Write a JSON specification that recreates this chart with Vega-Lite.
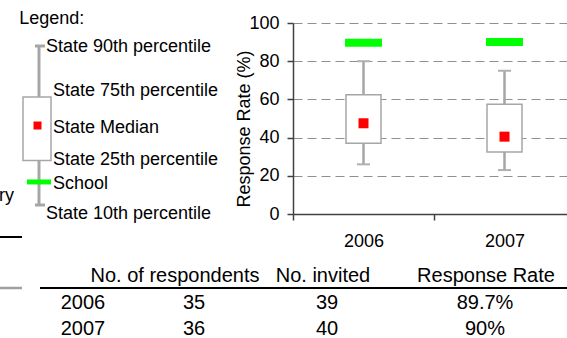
{
  "$schema": "https://vega.github.io/schema/vega-lite/v6.json",
  "width": 274,
  "height": 338,
  "autosize": {"type": "none"},
  "padding": {"left": 293, "right": 0, "top": 0, "bottom": 0},
  "background": "white",
  "config": {
    "view": {"stroke": null},
    "font": "Liberation Sans",
    "axis": {"labelFont": "Liberation Sans", "titleFont": "Liberation Sans", "labelFontSize": 18, "titleFontSize": 18, "labelColor": "black", "titleColor": "black", "titleFontWeight": "normal"},
    "text": {"font": "Liberation Sans", "fontSize": 18, "color": "black"}
  },
  "datasets": {
    "box": [
      {"year": "2006", "p10": 26, "p25": 37, "median": 47.5, "p75": 62.5, "p90": 80, "school": 89.7},
      {"year": "2007", "p10": 23, "p25": 32.5, "median": 40.5, "p75": 57.5, "p90": 75, "school": 90}
    ],
    "legend": [{"p10": 0, "p25": 28, "median": 50, "p75": 68, "p90": 100, "school": 14.5}],
    "table": [
      {"year": "2006", "respondents": 35, "invited": 39, "rate": "89.7%"},
      {"year": "2007", "respondents": 36, "invited": 40, "rate": "90%"}
    ],
    "headers": [
      {"col": "respondents", "label": "No. of respondents"},
      {"col": "invited", "label": "No. invited"},
      {"col": "rate", "label": "Response Rate"}
    ],
    "fragment": [{"label": "ry"}]
  },
  "resolve": {"scale": {"x": "independent", "y": "independent"}, "axis": {"x": "independent", "y": "independent"}},
  "layer": [
    {
      "data": {"name": "box"},
      "encoding": {
        "x": {"field": "year", "type": "nominal",
          "scale": {"type": "band", "domain": ["2006", "2007"], "range": [0, 282], "paddingInner": 0, "paddingOuter": 0},
          "axis": {"orient": "bottom", "offset": -124, "title": null, "labelAngle": 0, "tickBand": "extent", "tickSize": 6, "labelPadding": 12, "domainColor": "#404040", "domainWidth": 1.5, "tickColor": "#404040", "tickWidth": 1.5, "grid": false}}
      },
      "layer": [
        {"mark": {"type": "rule", "color": "#a6a6a6", "strokeWidth": 2.5},
         "encoding": {
           "y": {"field": "p10", "type": "quantitative", "scale": {"domain": [0, 100], "range": [214, 23], "nice": false, "zero": false},
             "axis": {"orient": "left", "title": "Response Rate (%)", "values": [0, 20, 40, 60, 80, 100], "tickSize": 6, "labelPadding": 8, "grid": true, "gridColor": "#909090", "gridDash": [9, 5], "gridWidth": 1.2, "domainColor": "#404040", "domainWidth": 1.5, "tickColor": "#404040", "tickWidth": 1.5, "titleX": -40, "titleY": 128.5}},
           "y2": {"field": "p90"}}},
        {"mark": {"type": "tick", "color": "#b0b0b0", "size": 13, "thickness": 2, "opacity": 1},
         "encoding": {"y": {"field": "p90", "type": "quantitative", "scale": {"domain": [0, 100], "range": [214, 23], "nice": false, "zero": false}}}},
        {"mark": {"type": "tick", "color": "#b0b0b0", "size": 13, "thickness": 2, "opacity": 1},
         "encoding": {"y": {"field": "p10", "type": "quantitative", "scale": {"domain": [0, 100], "range": [214, 23], "nice": false, "zero": false}}}},
        {"mark": {"type": "bar", "width": 35, "fill": "white", "stroke": "#a6a6a6", "strokeWidth": 1.5},
         "encoding": {"y": {"field": "p25", "type": "quantitative", "scale": {"domain": [0, 100], "range": [214, 23], "nice": false, "zero": false}}, "y2": {"field": "p75"}}},
        {"mark": {"type": "square", "size": 100, "color": "#ff0000", "opacity": 1},
         "encoding": {"y": {"field": "median", "type": "quantitative", "scale": {"domain": [0, 100], "range": [214, 23], "nice": false, "zero": false}}}},
        {"mark": {"type": "tick", "color": "#00ff00", "size": 37, "thickness": 8, "opacity": 1},
         "encoding": {"y": {"field": "school", "type": "quantitative", "scale": {"domain": [0, 100], "range": [214, 23], "nice": false, "zero": false}}}}
      ]
    },
    {
      "data": {"name": "legend"},
      "encoding": {
        "x": {"datum": "legend", "type": "nominal", "scale": {"type": "point", "domain": ["legend"], "range": [-293, -217], "padding": 0.5}, "axis": null}
      },
      "layer": [
        {"mark": {"type": "rule", "color": "#a6a6a6", "strokeWidth": 3, "xOffset": 1},
         "encoding": {"y": {"field": "p10", "type": "quantitative", "scale": {"domain": [0, 100], "range": [205, 46], "nice": false, "zero": false}, "axis": null}, "y2": {"field": "p90"}}},
        {"mark": {"type": "tick", "color": "#a6a6a6", "size": 10, "thickness": 3, "xOffset": 2, "opacity": 1},
         "encoding": {"y": {"field": "p90", "type": "quantitative", "scale": {"domain": [0, 100], "range": [205, 46], "nice": false, "zero": false}, "axis": null}}},
        {"mark": {"type": "tick", "color": "#a6a6a6", "size": 10, "thickness": 3, "xOffset": 2, "opacity": 1},
         "encoding": {"y": {"field": "p10", "type": "quantitative", "scale": {"domain": [0, 100], "range": [205, 46], "nice": false, "zero": false}, "axis": null}}},
        {"mark": {"type": "bar", "width": 28, "fill": "white", "stroke": "#a6a6a6", "strokeWidth": 1.5, "xOffset": -1},
         "encoding": {"y": {"field": "p25", "type": "quantitative", "scale": {"domain": [0, 100], "range": [205, 46], "nice": false, "zero": false}, "axis": null}, "y2": {"field": "p75"}}},
        {"mark": {"type": "square", "size": 64, "color": "#ff0000", "opacity": 1, "xOffset": -0.5},
         "encoding": {"y": {"field": "median", "type": "quantitative", "scale": {"domain": [0, 100], "range": [205, 46], "nice": false, "zero": false}, "axis": null}}},
        {"mark": {"type": "tick", "color": "#00ff00", "size": 24, "thickness": 5, "xOffset": 1, "opacity": 1},
         "encoding": {"y": {"field": "school", "type": "quantitative", "scale": {"domain": [0, 100], "range": [205, 46], "nice": false, "zero": false}, "axis": null}}},
        {"mark": {"type": "text", "align": "left", "baseline": "middle", "dx": -18.7, "dy": -27.5, "fontSize": 18},
         "encoding": {"y": {"field": "p90", "type": "quantitative", "scale": {"domain": [0, 100], "range": [205, 46], "nice": false, "zero": false}, "axis": null}, "text": {"value": "Legend:"}}},
        {"mark": {"type": "text", "align": "left", "baseline": "middle", "dx": 8, "dy": 1, "fontSize": 18},
         "encoding": {"y": {"field": "p90", "type": "quantitative", "scale": {"domain": [0, 100], "range": [205, 46], "nice": false, "zero": false}, "axis": null}, "text": {"value": "State 90th percentile"}}},
        {"mark": {"type": "text", "align": "left", "baseline": "middle", "dx": 15, "dy": -6, "fontSize": 18},
         "encoding": {"y": {"field": "p75", "type": "quantitative", "scale": {"domain": [0, 100], "range": [205, 46], "nice": false, "zero": false}, "axis": null}, "text": {"value": "State 75th percentile"}}},
        {"mark": {"type": "text", "align": "left", "baseline": "middle", "dx": 15, "dy": 2.5, "fontSize": 18},
         "encoding": {"y": {"field": "median", "type": "quantitative", "scale": {"domain": [0, 100], "range": [205, 46], "nice": false, "zero": false}, "axis": null}, "text": {"value": "State Median"}}},
        {"mark": {"type": "text", "align": "left", "baseline": "middle", "dx": 15, "dy": 0, "fontSize": 18},
         "encoding": {"y": {"field": "p25", "type": "quantitative", "scale": {"domain": [0, 100], "range": [205, 46], "nice": false, "zero": false}, "axis": null}, "text": {"value": "State 25th percentile"}}},
        {"mark": {"type": "text", "align": "left", "baseline": "middle", "dx": 15, "dy": 2, "fontSize": 18},
         "encoding": {"y": {"field": "school", "type": "quantitative", "scale": {"domain": [0, 100], "range": [205, 46], "nice": false, "zero": false}, "axis": null}, "text": {"value": "School"}}},
        {"mark": {"type": "text", "align": "left", "baseline": "middle", "dx": 8, "dy": 9, "fontSize": 18},
         "encoding": {"y": {"field": "p10", "type": "quantitative", "scale": {"domain": [0, 100], "range": [205, 46], "nice": false, "zero": false}, "axis": null}, "text": {"value": "State 10th percentile"}}}
      ]
    },
    {
      "data": {"name": "table"},
      "layer": [
        {"mark": {"type": "text", "align": "center", "baseline": "middle", "fontSize": 20},
         "encoding": {
           "x": {"datum": "year", "type": "nominal", "scale": {"type": "point", "domain": ["year", "respondents", "invited", "rate"], "range": [-210, 192], "padding": 0}, "axis": null},
           "y": {"field": "year", "type": "nominal", "scale": {"type": "point", "domain": ["header", "2006", "2007"], "range": [276.3, 328.7], "padding": 0}, "axis": null},
           "text": {"field": "year"}}},
        {"mark": {"type": "text", "align": "center", "baseline": "middle", "fontSize": 20, "dx": -23},
         "encoding": {
           "x": {"datum": "respondents", "type": "nominal", "scale": {"type": "point", "domain": ["year", "respondents", "invited", "rate"], "range": [-210, 192], "padding": 0}, "axis": null},
           "y": {"field": "year", "type": "nominal", "scale": {"type": "point", "domain": ["header", "2006", "2007"], "range": [276.3, 328.7], "padding": 0}, "axis": null},
           "text": {"field": "respondents"}}},
        {"mark": {"type": "text", "align": "center", "baseline": "middle", "fontSize": 20, "dx": -24},
         "encoding": {
           "x": {"datum": "invited", "type": "nominal", "scale": {"type": "point", "domain": ["year", "respondents", "invited", "rate"], "range": [-210, 192], "padding": 0}, "axis": null},
           "y": {"field": "year", "type": "nominal", "scale": {"type": "point", "domain": ["header", "2006", "2007"], "range": [276.3, 328.7], "padding": 0}, "axis": null},
           "text": {"field": "invited"}}},
        {"mark": {"type": "text", "align": "center", "baseline": "middle", "fontSize": 20, "dx": 0},
         "encoding": {
           "x": {"datum": "rate", "type": "nominal", "scale": {"type": "point", "domain": ["year", "respondents", "invited", "rate"], "range": [-210, 192], "padding": 0}, "axis": null},
           "y": {"field": "year", "type": "nominal", "scale": {"type": "point", "domain": ["header", "2006", "2007"], "range": [276.3, 328.7], "padding": 0}, "axis": null},
           "text": {"field": "rate"}}},
        {"data": {"name": "headers"}, "transform": [{"filter": "datum.col === 'respondents'"}],
         "mark": {"type": "text", "align": "center", "baseline": "middle", "fontSize": 20, "dx": -42},
         "encoding": {
           "x": {"field": "col", "type": "nominal", "scale": {"type": "point", "domain": ["year", "respondents", "invited", "rate"], "range": [-210, 192], "padding": 0}, "axis": null},
           "y": {"datum": "header", "type": "nominal", "scale": {"type": "point", "domain": ["header", "2006", "2007"], "range": [276.3, 328.7], "padding": 0}, "axis": null},
           "text": {"field": "label"}}},
        {"data": {"name": "headers"}, "transform": [{"filter": "datum.col === 'invited'"}],
         "mark": {"type": "text", "align": "center", "baseline": "middle", "fontSize": 20, "dx": -28},
         "encoding": {
           "x": {"field": "col", "type": "nominal", "scale": {"type": "point", "domain": ["year", "respondents", "invited", "rate"], "range": [-210, 192], "padding": 0}, "axis": null},
           "y": {"datum": "header", "type": "nominal", "scale": {"type": "point", "domain": ["header", "2006", "2007"], "range": [276.3, 328.7], "padding": 0}, "axis": null},
           "text": {"field": "label"}}},
        {"data": {"name": "headers"}, "transform": [{"filter": "datum.col === 'rate'"}],
         "mark": {"type": "text", "align": "center", "baseline": "middle", "fontSize": 20, "dx": 1},
         "encoding": {
           "x": {"field": "col", "type": "nominal", "scale": {"type": "point", "domain": ["year", "respondents", "invited", "rate"], "range": [-210, 192], "padding": 0}, "axis": null},
           "y": {"datum": "header", "type": "nominal", "scale": {"type": "point", "domain": ["header", "2006", "2007"], "range": [276.3, 328.7], "padding": 0}, "axis": null},
           "text": {"field": "label"}}},
        {"data": {"name": "fragment"},
         "mark": {"type": "rule", "color": "black", "strokeWidth": 2, "xOffset": -43, "x2Offset": 82, "yOffset": 11.7},
         "encoding": {
           "x": {"datum": "year", "type": "nominal", "scale": {"type": "point", "domain": ["year", "respondents", "invited", "rate"], "range": [-210, 192], "padding": 0}, "axis": null},
           "x2": {"datum": "rate"},
           "y": {"datum": "header", "type": "nominal", "scale": {"type": "point", "domain": ["header", "2006", "2007"], "range": [276.3, 328.7], "padding": 0}, "axis": null}}},
        {"data": {"name": "fragment"},
         "mark": {"type": "rule", "color": "#a0a0a0", "strokeWidth": 2.5, "xOffset": -83, "x2Offset": -61, "yOffset": 11.7},
         "encoding": {
           "x": {"datum": "year", "type": "nominal", "scale": {"type": "point", "domain": ["year", "respondents", "invited", "rate"], "range": [-210, 192], "padding": 0}, "axis": null},
           "x2": {"datum": "year"},
           "y": {"datum": "header", "type": "nominal", "scale": {"type": "point", "domain": ["header", "2006", "2007"], "range": [276.3, 328.7], "padding": 0}, "axis": null}}},
        {"data": {"name": "fragment"},
         "mark": {"type": "rule", "color": "black", "strokeWidth": 2, "xOffset": -83, "x2Offset": -61, "yOffset": -39.3},
         "encoding": {
           "x": {"datum": "year", "type": "nominal", "scale": {"type": "point", "domain": ["year", "respondents", "invited", "rate"], "range": [-210, 192], "padding": 0}, "axis": null},
           "x2": {"datum": "year"},
           "y": {"datum": "header", "type": "nominal", "scale": {"type": "point", "domain": ["header", "2006", "2007"], "range": [276.3, 328.7], "padding": 0}, "axis": null}}},
        {"data": {"name": "fragment"},
         "mark": {"type": "text", "align": "right", "baseline": "middle", "fontSize": 18, "dx": -69, "dy": -80},
         "encoding": {
           "x": {"datum": "year", "type": "nominal", "scale": {"type": "point", "domain": ["year", "respondents", "invited", "rate"], "range": [-210, 192], "padding": 0}, "axis": null},
           "y": {"datum": "header", "type": "nominal", "scale": {"type": "point", "domain": ["header", "2006", "2007"], "range": [276.3, 328.7], "padding": 0}, "axis": null},
           "text": {"field": "label"}}}
      ]
    }
  ]
}
